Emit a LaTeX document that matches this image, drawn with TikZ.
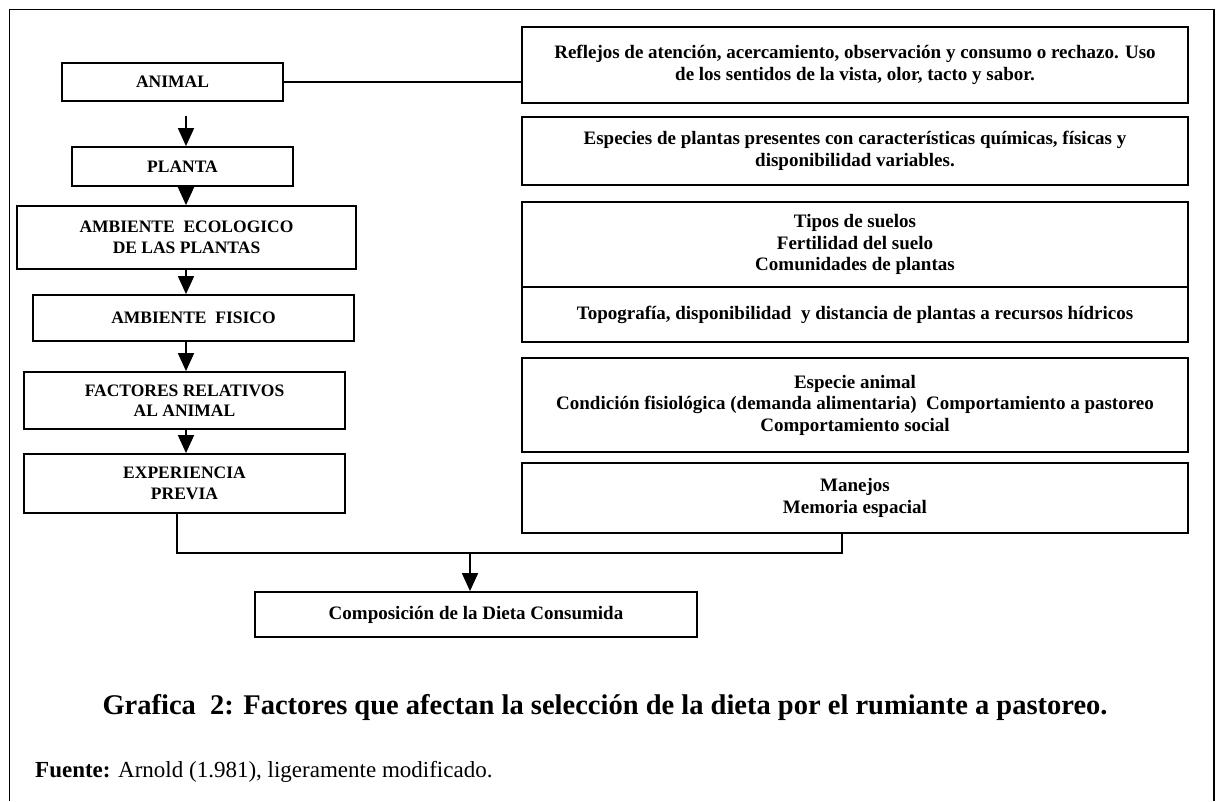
\documentclass[tikz,border=0pt]{standalone}
\usepackage{fontspec}
\setmainfont{Liberation Serif}
\usetikzlibrary{arrows.meta,calc}
\begin{document}
\begin{tikzpicture}[x=1pt,y=-1pt,
  box/.style={draw, line width=1.8pt, rectangle, inner sep=0pt, align=center, font=\bfseries\fontsize{17.5}{20.5}\selectfont},
  rbox/.style={draw, line width=1.8pt, rectangle, inner sep=0pt, align=center, font=\bfseries\fontsize{19}{21.5}\selectfont},
  conn/.style={line width=1.7pt},
  arr/.style={line width=1.7pt, -{Triangle[width=16pt,length=18pt]}},
  frame/.style={line width=1.2pt}
]
\useasboundingbox (0,0) rectangle (1221,801);
% frame
\draw[frame] (9.5,801) -- (9.5,9.5) -- (1214,9.5) -- (1214,801);
% left column
\node[box, minimum width=221pt, minimum height=38pt] (animal) at (172.5,82) {ANIMAL};
\node[box, minimum width=221pt, minimum height=39pt] (planta) at (182.5,166.5) {PLANTA};
\node[box, minimum width=339pt, minimum height=63pt] (ameco) at (186.5,237.5) {AMBIENTE\ \ ECOLOGICO\\DE LAS PLANTAS};
\node[box, minimum width=321pt, minimum height=46pt] (amfis) at (193.5,318) {AMBIENTE\ \ FISICO};
\node[box, minimum width=321pt, minimum height=57pt] (fact) at (184.5,400.5) {FACTORES RELATIVOS\\AL ANIMAL};
\node[box, minimum width=321pt, minimum height=59pt] (exper) at (184.5,483.5) {EXPERIENCIA\\PREVIA};
% right column
\node[rbox, minimum width=666pt, minimum height=76pt] (r1) at (855,65) {Reflejos de atención, acercamiento, observación y consumo o rechazo. Uso\\de los sentidos de la vista, olor, tacto y sabor.};
\node[rbox, minimum width=666pt, minimum height=68pt] (r2) at (855,151) {Especies de plantas presentes con características químicas, físicas y\\disponibilidad variables.};
\node[rbox, minimum width=666pt, minimum height=85pt] (r3) at (855,244.5) {Tipos de suelos\\Fertilidad del suelo\\Comunidades de plantas};
\node[rbox, minimum width=666pt, minimum height=55pt] (r4) at (855,314.5) {Topografía, disponibilidad\ \ y distancia de plantas a recursos hídricos};
\node[rbox, minimum width=666pt, minimum height=94pt] (r5) at (855,405) {Especie animal\\Condición fisiológica (demanda alimentaria)\ \ Comportamiento a pastoreo\\Comportamiento social};
\node[rbox, minimum width=666pt, minimum height=70pt] (r6) at (855,498) {Manejos\\Memoria espacial};
% result
\node[rbox, minimum width=442pt, minimum height=45pt] (comp) at (476,614.5) {Composición de la Dieta Consumida};
% caption and source
\node[anchor=base, inner sep=0pt, font=\bfseries\fontsize{28.5}{32}\selectfont] (cap) at (605,714) {Grafica\ \ 2: Factores que afectan la selección de la dieta por el rumiante a pastoreo.};
\node[anchor=base west, inner sep=0pt, font=\fontsize{23}{26}\selectfont] (src) at (35,777) {\textbf{Fuente:} Arnold (1.981), ligeramente modificado.};
% connectors
\coordinate (colx) at (186,0);
\draw[conn] (animal.east) -- (animal.east -| r1.west);
\draw[arr] ([yshift=-14pt]animal.south -| colx) -- (planta.north -| colx);
\draw[arr] (planta.south -| colx) -- (ameco.north -| colx);
\draw[arr] (ameco.south -| colx) -- (amfis.north -| colx);
\draw[arr] (amfis.south -| colx) -- (fact.north -| colx);
\draw[arr] (fact.south -| colx) -- (exper.north -| colx);
\coordinate (j1) at (177,553);
\coordinate (j2) at (842,553);
\coordinate (j3) at (470,553);
\draw[conn] (exper.south -| j1) -- (j1) -- (j2) -- (j2 |- r6.south);
\draw[arr] (j3) -- (j3 |- comp.north);
\end{tikzpicture}
\end{document}
